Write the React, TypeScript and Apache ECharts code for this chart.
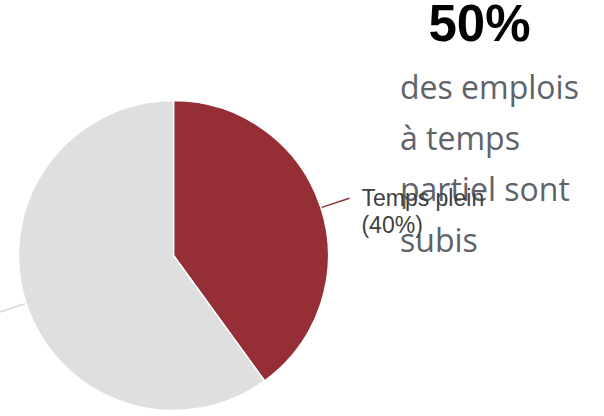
import React, { useEffect, useRef } from "react";
import * as echarts from "echarts";

const categories = ["Temps plein", "Temps partiel"];
const values = [40, 60];
const sliceColors = ["#952f35", "#dfdfdf"];
const lineColors = ["#952f35", "#d6d6d6"];
const headline = "50%";
const subLines = ["des emplois", "à temps", "partiel sont", "subis"];

const SHIFT = 200;

export default function App() {
  const ref = useRef<HTMLDivElement>(null);
  useEffect(() => {
    if (!ref.current) return;
    const chart = echarts.init(ref.current, undefined, { renderer: "svg" });
    const data = categories.map((name, i) => ({
      name,
      value: values[i],
      itemStyle: { color: sliceColors[i] },
      labelLine: { lineStyle: { color: lineColors[i], width: 1.5 } },
    }));
    chart.setOption({
      animation: false,
      series: [
        {
          type: "pie",
          center: [173.5 + SHIFT, 255.5],
          radius: 155,
          startAngle: 90,
          clockwise: true,
          avoidLabelOverlap: false,
          itemStyle: { borderColor: "#ffffff", borderWidth: 1.5 },
          label: {
            show: true,
            position: "outside",
            formatter: (p: any) => `\n${p.name}\n(${p.value}%)`,
            fontFamily: "Liberation Sans, Arial, sans-serif",
            fontSize: 23,
            lineHeight: 27,
            color: "#404040",
            distanceToLabelLine: 12,
          },
          labelLine: { show: true, length: 30, length2: 0, smooth: false },
          data,
        },
      ],
      graphic: [
        {
          type: "text",
          x: 479.5 + SHIFT,
          y: 23,
          style: {
            text: headline,
            fontFamily: "Liberation Sans, Arial, sans-serif",
            fontWeight: "bold",
            fontSize: 51,
            fill: "#000000",
            align: "center",
            verticalAlign: "middle",
          },
        },
        ...subLines.map((t, i) => ({
          type: "text",
          x: 400 + SHIFT,
          y: 86 + i * 51,
          style: {
            text: t,
            fontFamily: "Open Sans, sans-serif",
            fontSize: 32,
            fill: "#5d6369",
            align: "left",
            verticalAlign: "middle",
          },
        })),
      ],
    });
    return () => chart.dispose();
  }, []);
  return (
    <div
      ref={ref}
      style={{
        position: "fixed",
        left: -SHIFT,
        top: 0,
        width: 604 + SHIFT,
        height: 416,
        background: "#ffffff",
      }}
    />
  );
}
